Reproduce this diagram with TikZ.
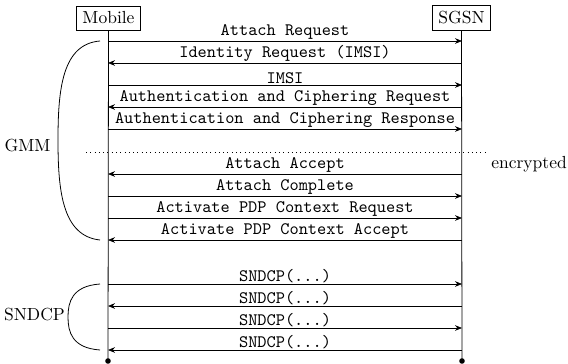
\documentclass[tikz,border=0pt]{standalone}
\usetikzlibrary{arrows.meta}
\begin{document}
\begin{tikzpicture}[x=0.5714pt,y=-0.5714pt,
  party/.style={draw,inner sep=3.33pt},
  msg/.style={line width=0.45pt},
  fwd/.style={msg,-{Stealth[length=4pt,width=3.2pt]}},
  bwd/.style={msg,{Stealth[length=4pt,width=3.2pt]}-},
  lbl/.style={above,inner sep=0.6pt,font=\ttfamily},
  endpt/.style={circle,fill,inner sep=0pt,minimum size=3.2pt},
  brace/.style={line width=0.45pt}]
\useasboundingbox (0,0) rectangle (568,364);

% participants
\node[party] (mob) at (108.5,18) {Mobile};
\node[party] (sgsn) at (461.5,18) {SGSN};
\node[endpt] (mobEnd) at (108,361) {};
\node[endpt] (sgsnEnd) at (462,361) {};

% lifelines
\draw[msg] (mob.south) -- (mobEnd.center);
\draw[msg] (sgsn.south) -- (sgsnEnd.center);

% message anchors on both lifelines
\foreach \i/\y in {1/41,2/63,3/85,4/107,5/129,6/174,7/196,8/218,9/240,
                   10/284,11/306,12/328,13/350} {
  \coordinate (m\i) at (108,\y);
  \coordinate (s\i) at (462,\y);
}

% GMM signalling
\draw[fwd] (m1) -- node[lbl] {Attach Request} (s1);
\draw[bwd] (m2) -- node[lbl] {Identity Request (IMSI)} (s2);
\draw[fwd] (m3) -- node[lbl] {IMSI} (s3);
\draw[bwd] (m4) -- node[lbl] {Authentication and Ciphering Request} (s4);
\draw[fwd] (m5) -- node[lbl] {Authentication and Ciphering Response} (s5);

% start of encryption
\coordinate (encL) at (86,152);
\coordinate (encR) at (485,152);
\draw[dotted,msg] (encL) -- (encR);
\node[anchor=base west,inner sep=0pt] (enc) at (491,168) {encrypted};

\draw[bwd] (m6) -- node[lbl] {Attach Accept} (s6);
\draw[fwd] (m7) -- node[lbl] {Attach Complete} (s7);
\draw[fwd] (m8) -- node[lbl] {Activate PDP Context Request} (s8);
\draw[bwd] (m9) -- node[lbl] {Activate PDP Context Accept} (s9);

% user data
\draw[fwd] (m10) -- node[lbl] {SNDCP(...)} (s10);
\draw[bwd] (m11) -- node[lbl] {SNDCP(...)} (s11);
\draw[fwd] (m12) -- node[lbl] {SNDCP(...)} (s12);
\draw[bwd] (m13) -- node[lbl] {SNDCP(...)} (s13);

% protocol groupings
\coordinate (g1) at (100,41);
\coordinate (g2) at (100,240);
\draw[brace] (g1) .. controls (62,44) and (58,90) .. (58,140)
                  .. controls (58,190) and (62,236) .. (g2);
\node[anchor=base,inner sep=0pt] (gmm) at (27.5,151) {GMM};

\coordinate (n1) at (100,284);
\coordinate (n2) at (100,350);
\draw[brace] (n1) .. controls (72,286) and (68,302) .. (68,317)
                  .. controls (68,332) and (72,348) .. (n2);
\node[anchor=base,inner sep=0pt] (sndcp) at (34.5,320) {SNDCP};
\end{tikzpicture}
\end{document}
